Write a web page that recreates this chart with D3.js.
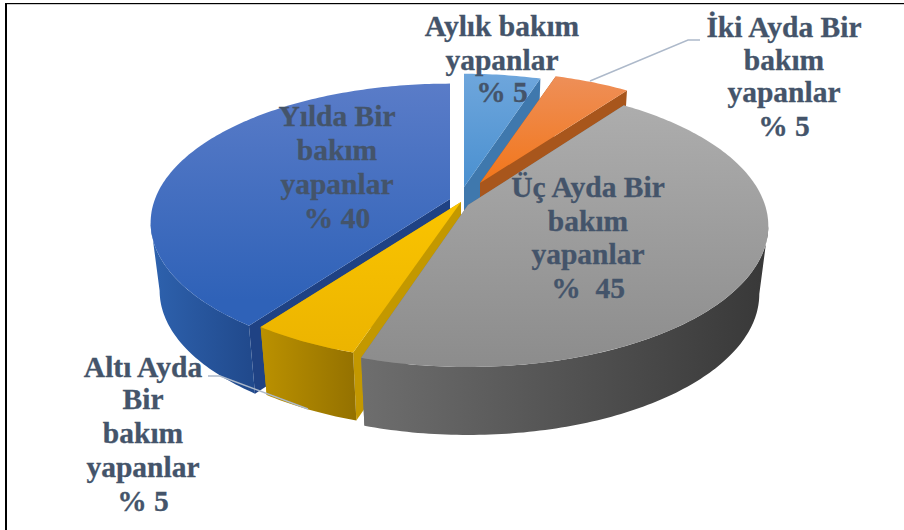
<!DOCTYPE html>
<html><head><meta charset="utf-8">
<script src="https://cdn.jsdelivr.net/npm/d3@7/dist/d3.min.js"></script>
<style>html,body{margin:0;padding:0;background:#fff}svg{display:block}</style>
</head><body><svg id="c" width="904" height="530"></svg>
<script>
const categories = ["Aylık", "İki Ayda Bir", "Üç Ayda Bir", "Altı Ayda Bir", "Yılda Bir"];
const values = [5, 5, 45, 5, 40];
const labelLines = [
  ["Aylık bakım", "yapanlar", "% 5"],
  ["İki Ayda Bir", "bakım", "yapanlar", "% 5"],
  ["Üç Ayda Bir", "bakım", "yapanlar", "%  45"],
  ["Altı Ayda", "Bir", "bakım", "yapanlar", "% 5"],
  ["Yılda Bir", "bakım", "yapanlar", "% 40"]
];
const labelX = [502, 784, 588, 143, 337];
const labelY = [[36,70,102],[37,70,102,136],[197,231,264,298],[377,409,443,477,511],[126,160,194,228]];

const geom = [
  {ax:464, ay:187, rx:282, ry:130, k:0.148},
  {ax:480, ay:183, rx:280, ry:128, k:0.148},
  {ax:468, ay:205, rx:297, ry:138, k:0.148},
  {ax:461, ay:202, rx:300, ry:136, k:0.148},
  {ax:450, ay:199, rx:295, ry:135, k:0.17}
];
const DEPTH = 68, BOTTOM_SCALE = 0.97;
const topCols = [["#6ea6dc","#4a90d0"],["#ee8f58","#f2761a"],["#adadad","#8c8c8c"],["#fac400","#ecb400"],["#5a7cc8","#2f62b8"]];
const wallCols = [["#3f78ad","#3f78ad"],["#a5521a","#a5521a"],["#6e6e6e","#383838"],["#bb9100","#957200"],["#2e62ae","#214a8d"]];
const cutCols = ["#3f78ad","#a8561c","#777777","#c39800","#1f4284"];

const svg = d3.select("#c");
const defs = svg.append("defs");
const pie = d3.pie().sort(null).startAngle(0).endAngle(2*Math.PI);
const arcs = pie(values);
const line = d3.line();

function proj(g, th, bottom){
  const s = 1/(1 + g.k*Math.cos(th));
  const f = bottom ? BOTTOM_SCALE : 1;
  return [g.ax + f*g.rx*Math.sin(th)*s, g.ay - g.ry*Math.cos(th)*s + (bottom ? DEPTH : 0)];
}
function outer(g, a0, a1, bottom){
  const n = Math.ceil((a1-a0)*60);
  return d3.range(n+1).map(i => proj(g, a0+(a1-a0)*i/n, bottom));
}
function grad(id, cols, horiz, b){
  const lg = defs.append("linearGradient").attr("id",id).attr("gradientUnits","userSpaceOnUse");
  if(horiz) lg.attr("x1",b[0]).attr("x2",b[1]).attr("y1",0).attr("y2",0);
  else lg.attr("x1",0).attr("x2",0).attr("y1",b[0]).attr("y2",b[1]);
  lg.append("stop").attr("offset",0).attr("stop-color",cols[0]);
  lg.append("stop").attr("offset",1).attr("stop-color",cols[1]);
}
const pieG = svg.append("g");
const order = [0,1,4,3,2];
order.forEach(i => {
  const a = arcs[i], g = geom[i];
  const T = outer(g,a.startAngle,a.endAngle,false), B = outer(g,a.startAngle,a.endAngle,true);
  const apex = [g.ax,g.ay], apexB = [g.ax,g.ay+DEPTH];
  const ys = T.map(p=>p[1]);
  grad("t"+i, topCols[i], false, [d3.min(ys.concat(g.ay)), i===4?300:d3.max(ys.concat(g.ay))]);
  [T[0],T[T.length-1]].forEach((p,j)=>{
    const q = j? B[B.length-1]:B[0];
    pieG.append("path").attr("d",line([apex,p,q,apexB])+"Z").attr("fill",cutCols[i]);
  });
  // outer wall: only the front part, between the two silhouette tangents
  const tan = Math.acos(-g.k);
  const w0 = Math.max(a.startAngle, tan), w1 = Math.min(a.endAngle, 2*Math.PI - tan);
  if (w0 < w1) {
    const WT = outer(g,w0,w1,false), WB = outer(g,w0,w1,true);
    const xs = WT.map(p=>p[0]);
    grad("w"+i, wallCols[i], true, [d3.min(xs), d3.max(xs)]);
    pieG.append("path").attr("d",line(WT.concat(WB.slice().reverse()))+"Z").attr("fill",`url(#w${i})`);
  }
  pieG.append("path").attr("d",line([apex].concat(T))+"Z").attr("fill",`url(#t${i})`);
});

const leaderData = [[[590,81],[688,40],[700,40]],[[208,376],[220,376],[308,409]]];
svg.append("g").selectAll("path").data(leaderData).join("path")
  .attr("d",d=>line(d)).attr("fill","none").attr("stroke","#adb9ca").attr("stroke-width",1.4);

const lg = svg.append("g").attr("font-family","'Liberation Serif'").attr("font-weight","bold")
  .attr("font-size",29.5).attr("fill","#44546a").attr("stroke","#44546a").attr("stroke-width",0.3).attr("text-anchor","middle");
labelLines.forEach((ls,i)=>{
  ls.forEach((t,j)=>{
    lg.append("text").attr("x",labelX[i]).attr("y",labelY[i][j]).style("white-space","pre").text(t);
  });
});
svg.append("rect").attr("x",5).attr("y",3).attr("width",2).attr("height",527).attr("fill","#000");
svg.append("rect").attr("x",5).attr("y",3).attr("width",899).attr("height",1.2).attr("fill","#000");
</script></body></html>
